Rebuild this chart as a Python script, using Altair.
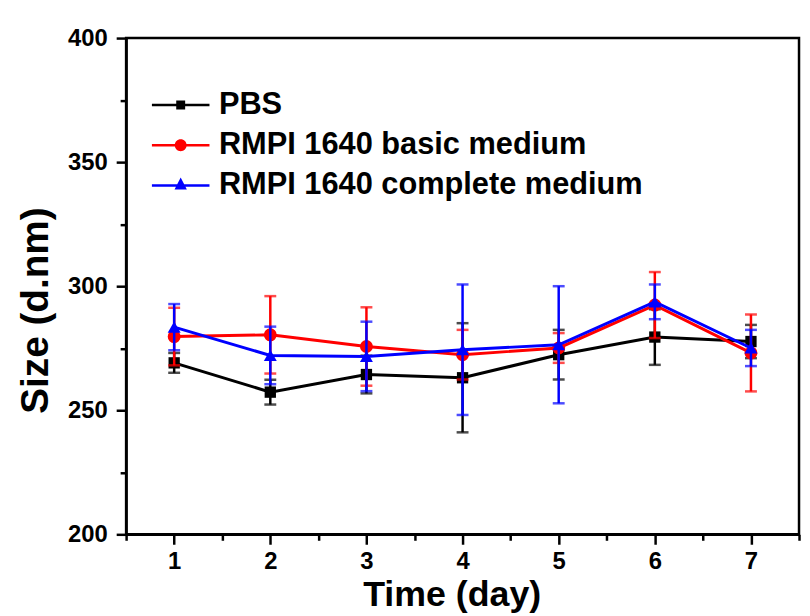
import altair as alt
import pandas as pd

days = [1, 2, 3, 4, 5, 6, 7]
series_names = ["PBS", "RMPI 1640 basic medium", "RMPI 1640 complete medium"]
pbs_mean = [269.1, 257.3, 264.4, 263.1, 272.4, 279.5, 277.7]
pbs_sd = [4.0, 5.0, 7.6, 22.0, 10.0, 11.2, 6.7]
basic_mean = [279.7, 280.4, 275.7, 272.4, 275.1, 292.4, 273.1]
basic_sd = [11.6, 15.6, 15.8, 10.0, 6.0, 13.3, 15.5]
complete_mean = [283.5, 272.1, 271.7, 274.4, 276.4, 293.7, 275.1]
complete_sd = [9.3, 11.6, 14.0, 26.3, 23.6, 7.0, 7.3]

colors = ["#000000", "#ff0000", "#0000ff"]
shapes = ["square", "circle", "triangle-up"]
sizes = [130, 170, 170]
legend_paths = [
    "M-2.9,-0.13H2.9V0.13H-2.9Z M-0.45,-0.45H0.45V0.45H-0.45Z",
    "M-2.9,-0.13H2.9V0.13H-2.9Z M-0.6,0A0.6,0.6 0 1,1 0.6,0A0.6,0.6 0 1,1 -0.6,0Z",
    "M-2.9,-0.13H2.9V0.13H-2.9Z M0,-0.8L0.62,0.42L-0.62,0.42Z",
]

rows = []
for name, means, sds in zip(series_names, [pbs_mean, basic_mean, complete_mean],
                            [pbs_sd, basic_sd, complete_sd]):
    for d, m, s in zip(days, means, sds):
        rows.append({"day": d, "series": name, "mean": m, "sd": s})
df = pd.DataFrame(rows)

FONT = "Liberation Sans"

x_axis = alt.Axis(
    values=[0.5, 1, 1.5, 2, 2.5, 3, 3.5, 4, 4.5, 5, 5.5, 6, 6.5, 7, 7.5],
    labelExpr="datum.value % 1 === 0 ? format(datum.value, 'd') : ''",
    tickSize={"condition": {"test": "datum.value % 1 === 0", "value": 10}, "value": 6},
    labelPadding=5,
    titleX=328,
    titleY=72,
    titleFontSize=36,
    titleBaseline="alphabetic",
    titleAnchor="middle",
)
y_axis = alt.Axis(
    values=[200, 225, 250, 275, 300, 325, 350, 375, 400],
    labelExpr="datum.value % 50 === 0 ? format(datum.value, 'd') : ''",
    tickSize={"condition": {"test": "datum.value % 50 === 0", "value": 10}, "value": 6},
    labelPadding=9,
    titleX=-91,
    titleY=274,
    titleBaseline="middle",
    titleAngle=270,
)

xenc = alt.X("day:Q", scale=alt.Scale(domain=[0.5, 7.5], nice=False, zero=False),
             axis=x_axis, title="Time (day)")


def yenc(field):
    return alt.Y(f"{field}:Q", scale=alt.Scale(domain=[200, 400], nice=False, zero=False),
                 axis=y_axis, title="Size (d.nm)")


base = alt.Chart(df).transform_calculate(
    lo="datum.mean - datum.sd", hi="datum.mean + datum.sd"
)

layers = []
for name, col, shp, sz in zip(series_names, colors, shapes, sizes):
    sub = base.transform_filter(alt.datum.series == name)
    layers.append(sub.mark_line(color=col, strokeWidth=3).encode(x=xenc, y=yenc("mean")))
    layers.append(sub.mark_rule(color=col, strokeWidth=2.5).encode(
        x=xenc, y=yenc("lo"), y2="hi:Q"))
    layers.append(sub.mark_tick(color=col, orient="horizontal", size=12, thickness=2.5).encode(
        x=xenc, y=yenc("lo")))
    layers.append(sub.mark_tick(color=col, orient="horizontal", size=12, thickness=2.5).encode(
        x=xenc, y=yenc("hi")))
    layers.append(sub.mark_point(color=col, shape=shp, size=sz, filled=True, opacity=1).encode(
        x=xenc, y=yenc("mean")))

leg = alt.Legend(
    title=None, orient="none", legendX=39.5, legendY=52, padding=0,
    labelFont=FONT, labelFontSize=31, labelFontWeight="bold", labelColor="black",
    symbolSize=400, symbolStrokeWidth=0, symbolOpacity=1, labelOffset=23,
    rowPadding=8.5, labelLimit=600,
)
legend_layer = base.mark_point(filled=True, opacity=0).encode(
    x=xenc, y=yenc("mean"),
    color=alt.Color("series:N", scale=alt.Scale(domain=series_names, range=colors), legend=leg),
    shape=alt.Shape("series:N", scale=alt.Scale(domain=series_names, range=legend_paths), legend=leg),
)
layers.append(legend_layer)

chart = alt.layer(*layers).properties(
    width=678, height=500,
    autosize=alt.AutoSizeParams(type="none"),
    padding={"left": 119, "top": 28, "right": 3, "bottom": 80},
    background="white",
).configure_view(
    stroke="black", strokeWidth=2.5
).configure_axis(
    grid=False,
    domainColor="black", domainWidth=2.5,
    tickColor="black", tickWidth=2.5,
    labelFont=FONT, labelFontSize=24, labelFontWeight="bold", labelColor="black",
    titleFont=FONT, titleFontSize=39, titleFontWeight="bold", titleColor="black",
)

chart.save("out.html", embed_options={"renderer": "svg", "actions": False})
